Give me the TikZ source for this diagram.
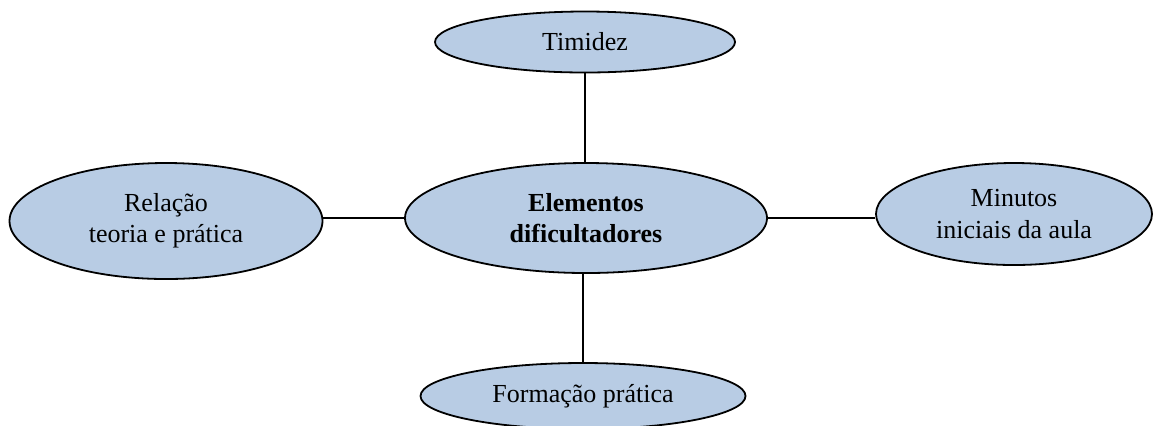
\documentclass[tikz,border=0pt]{standalone}
\usepackage{fontspec}
\setmainfont{Liberation Serif}
\usetikzlibrary{shapes.geometric}
\definecolor{ellfill}{HTML}{B8CCE4}
\begin{document}
\begin{tikzpicture}[x=0.5pt,y=-0.5pt,
  ell/.style={ellipse, draw=black, fill=ellfill, line width=0.9pt, inner sep=0pt,
    align=center, font=\fontsize{13}{15.6}\selectfont},
  conn/.style={draw=black, line width=0.9pt}]
\useasboundingbox (0,0) rectangle (1154,425);
\node[ell, minimum width=181pt, minimum height=55pt] (c) at (586,218) {\textbf{Elementos}\\\textbf{dificultadores}};
\node[ell, minimum width=150pt, minimum height=30.5pt] (t) at (585,42) {Timidez};
\node[ell, minimum width=156.5pt, minimum height=58pt] (l) at (166,221) {Relação\\teoria e prática};
\node[ell, minimum width=138pt, minimum height=51pt] (r) at (1014,214) {Minutos\\iniciais da aula};
\node[ell, minimum width=162.5pt, minimum height=33pt] (b) at (583,396) {Formação prática};
\draw[conn] (t.south) -- (t.south |- c.north);
\draw[conn] (b.north) -- (b.north |- c.south);
\draw[conn] (c.west) -- (c.west -| l.east);
\draw[conn] (c.east) -- (c.east -| r.west);
\end{tikzpicture}
\end{document}
